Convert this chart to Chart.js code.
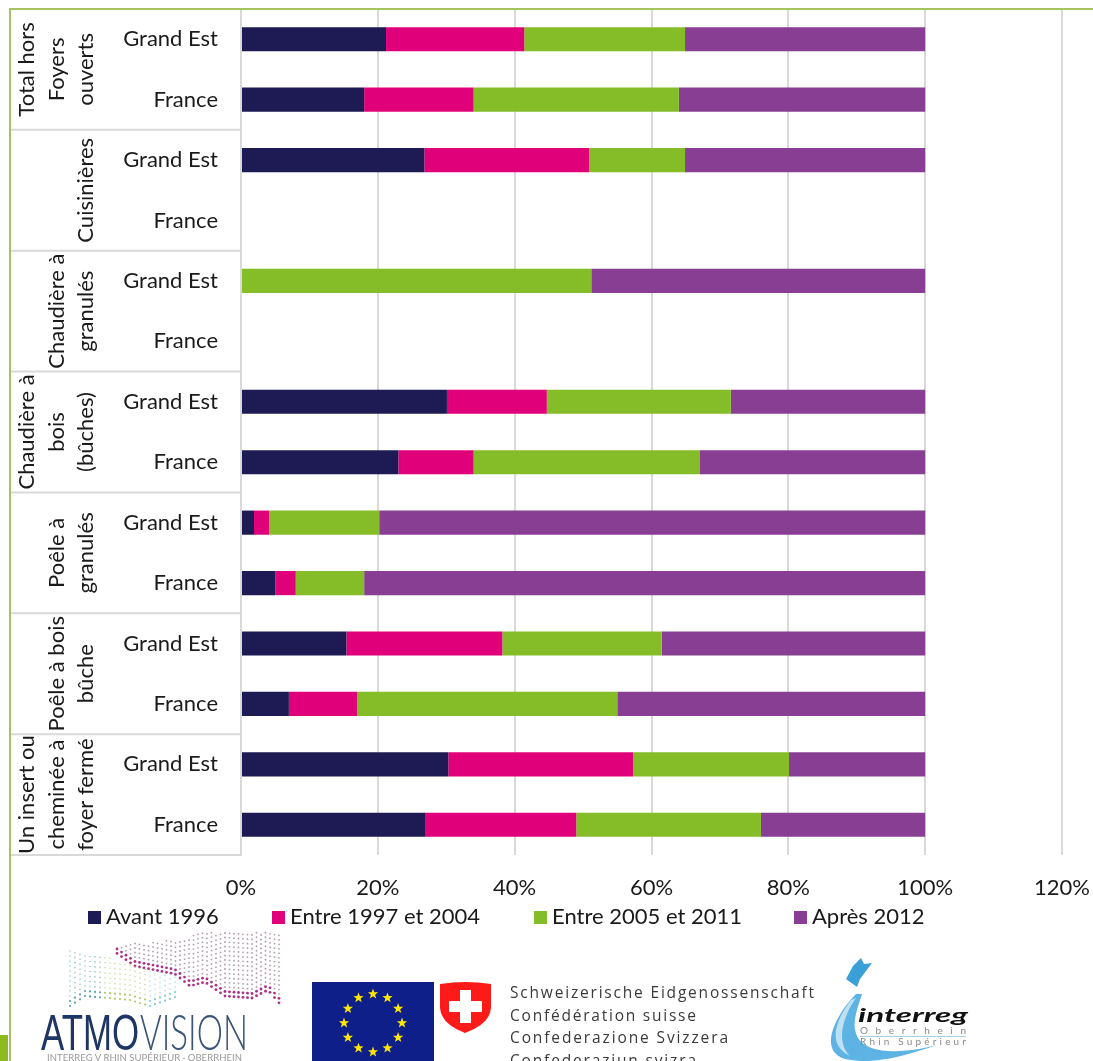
<!DOCTYPE html>
<html>
<head>
<meta charset="utf-8">
<script src="https://cdn.jsdelivr.net/npm/chart.js@4"></script>
<style>
  html, body { margin: 0; padding: 0; background: #fff; overflow: hidden; }
  #wrap { position: relative; width: 1093px; height: 1061px; overflow: hidden; }
  #chart { position: absolute; left: 0; top: 0; }
  #deco { position: absolute; left: 0; top: 0; }
</style>
</head>
<body>
<div id="wrap">
  <canvas id="chart" width="1093" height="1061"></canvas>
  <svg id="deco" width="1093" height="1061" xmlns="http://www.w3.org/2000/svg"></svg>
</div>
<script>
const regions = ['Grand Est','France','Grand Est','France','Grand Est','France','Grand Est','France','Grand Est','France','Grand Est','France','Grand Est','France'];
const groupLines = [
  ['Total hors','Foyers','ouverts'],
  ['Cuisinières'],
  ['Chaudière à','granulés'],
  ['Chaudière à','bois','(bûches)'],
  ['Poêle à','granulés'],
  ['Poêle à bois','bûche'],
  ['Un insert ou','cheminée à','foyer fermé']
];
const avant1996 = [21.2,18,26.8,null,0,null,30.1,23,1.9,5,15.4,7,30.3,27];
const entre1997 = [20.2,16,24.1,null,0,null,14.6,11,2.2,3,22.8,10,27,22];
const entre2005 = [23.5,30,14,null,51.2,null,26.9,33,16.1,10,23.3,38,22.8,27];
const apres2012 = [35.1,36,35.1,null,48.8,null,28.4,33,79.8,82,38.5,45,19.9,24];

const FONT = 'Lato';
const TXT = '#1a1a1a';
const GRID = '#d9d9d9';
const LEGEND_X = [88, 272, 534, 794];

// group cells left of the category labels, plus the legend row under the axis
const groupsPlugin = {
  id: 'groups',
  afterDraw(chart) {
    const ctx = chart.ctx, y = chart.scales.y, a = chart.chartArea;
    const rowH = (a.bottom - a.top) / regions.length;
    ctx.save();
    ctx.strokeStyle = GRID; ctx.lineWidth = 2;
    groupLines.forEach((lines, i) => {
      const bottom = a.top + rowH * (i + 1) * 2;
      ctx.beginPath(); ctx.moveTo(10, bottom); ctx.lineTo(a.left + 1, bottom); ctx.stroke();
      const cy = y.getPixelForValue(i * 2) + rowH / 2;
      ctx.fillStyle = TXT; ctx.font = '22px ' + FONT;
      ctx.textAlign = 'center'; ctx.textBaseline = 'middle';
      lines.forEach((line, j) => {
        const cx = 86 - (lines.length - 1 - j) * 29.5;
        ctx.save(); ctx.translate(cx, cy); ctx.rotate(-Math.PI / 2);
        ctx.fillText(line, 0, 0); ctx.restore();
      });
    });
    ctx.font = '22px ' + FONT; ctx.textAlign = 'left'; ctx.textBaseline = 'middle';
    chart.data.datasets.forEach((ds, i) => {
      ctx.fillStyle = ds.backgroundColor;
      ctx.fillRect(LEGEND_X[i], 911, 13, 13);
      ctx.fillStyle = TXT;
      ctx.fillText(ds.label, LEGEND_X[i] + 18, 917);
    });
    ctx.restore();
  }
};

new Chart(document.getElementById('chart').getContext('2d'), {
  type: 'bar',
  data: {
    labels: regions,
    datasets: [
      { label: 'Avant 1996', data: avant1996, backgroundColor: '#1e1b54' },
      { label: 'Entre 1997 et 2004', data: entre1997, backgroundColor: '#e0007a' },
      { label: 'Entre 2005 et 2011', data: entre2005, backgroundColor: '#84bd27' },
      { label: 'Après 2012', data: apres2012, backgroundColor: '#873e93' }
    ]
  },
  options: {
    indexAxis: 'y',
    responsive: false,
    animation: false,
    layout: { padding: { left: 10, right: 31, top: 9, bottom: 0 } },
    datasets: { bar: { categoryPercentage: 1, barPercentage: 0.4 } },
    plugins: {
      tooltip: { enabled: false },
      legend: { display: false }
    },
    scales: {
      x: {
        stacked: true, min: 0, max: 120,
        afterFit(s) { s.height = 206; s.paddingLeft = 0; s.paddingRight = 0; },
        grid: { color: GRID, lineWidth: 2, drawTicks: false },
        border: { display: false },
        ticks: { stepSize: 20, padding: 20, maxRotation: 0, color: TXT, font: { family: FONT, size: 22 }, callback: v => v + '%' }
      },
      y: {
        stacked: true,
        afterFit(s) { s.width = 231; s.paddingTop = 0; s.paddingBottom = 0; },
        grid: { display: false, drawTicks: false },
        border: { color: GRID, width: 2 },
        ticks: { autoSkip: false, padding: 23, color: TXT, font: { family: FONT, size: 22 } }
      }
    }
  },
  plugins: [groupsPlugin]
});

// frame and footer logos, these are not chart data
const NS = 'http://www.w3.org/2000/svg';
const deco = document.getElementById('deco');
function add(tag, attrs, text) {
  const el = document.createElementNS(NS, tag);
  for (const k in attrs) el.setAttribute(k, attrs[k]);
  if (text) el.textContent = text;
  deco.appendChild(el);
  return el;
}
add('rect', { x: 9, y: 8, width: 1084, height: 2, fill: '#a4c361' });
add('rect', { x: 9, y: 8, width: 2, height: 1053, fill: '#a4c361' });
add('rect', { x: 0, y: 1035, width: 8, height: 26, fill: '#8dbb1f' });

function curveAt(pts, x) {
  for (let i = 1; i < pts.length; i++) {
    if (x <= pts[i][0]) {
      const t = (x - pts[i-1][0]) / (pts[i][0] - pts[i-1][0]);
      return pts[i-1][1] + t * (pts[i][1] - pts[i-1][1]);
    }
  }
  return pts[pts.length - 1][1];
}
const pinkEdge = [[115,952],[135,966],[175,974],[190,986],[205,982],[225,996],[252,998],[268,990],[280,1004]];
const tealEdge = [[70,1006],[85,996],[130,1000],[150,1006],[178,996]];
for (let x = 117; x <= 280; x += 4.5) {
  const edge = curveAt(pinkEdge, x);
  const top = x < 190 ? 945 - (x - 117) * 0.1 : 932;
  for (let y = edge; y > top; y -= 4.5) {
    const near = y > edge - 9;
    add('circle', { cx: x, cy: y, r: near ? 1.4 : 0.9, fill: near ? '#a8237f' : '#8d6f8c', opacity: near ? 0.95 : 0.7 });
  }
}
for (let x = 70; x <= 178; x += 5) {
  const edge = curveAt(tealEdge, x);
  for (let y = edge; y > 950 + (x - 70) * 0.2; y -= 5) {
    const near = y > edge - 7;
    add('circle', { cx: x, cy: y, r: near ? 1.1 : 0.8, fill: x < 105 ? '#4f9ea0' : (x < 150 ? '#a9c65a' : '#7cc7d0'), opacity: near ? 0.95 : 0.6 });
  }
}
add('text', { x: 41, y: 1050, 'font-family': 'Liberation Sans', 'font-size': 50, fill: '#1f3564', textLength: 98, lengthAdjust: 'spacingAndGlyphs' }, 'ATMO');
add('text', { x: 140, y: 1050, 'font-family': 'Lato', 'font-weight': 300, 'font-size': 50, fill: '#3b5478', textLength: 108, lengthAdjust: 'spacingAndGlyphs' }, 'VISION');
add('text', { x: 47, y: 1061, 'font-family': 'Lato', 'font-size': 9.5, fill: '#9a9a9a', textLength: 195 }, 'INTERREG V RHIN SUPÉRIEUR · OBERRHEIN');

add('rect', { x: 312, y: 982, width: 122, height: 79, fill: '#0f1f8a' });
for (let i = 0; i < 12; i++) {
  const a = i * Math.PI / 6, cx = 373 + 29 * Math.sin(a), cy = 1023 - 29 * Math.cos(a);
  let d = '';
  for (let k = 0; k < 10; k++) {
    const r = k % 2 ? 2.2 : 5.4, b = k * Math.PI / 5;
    d += (k ? 'L' : 'M') + (cx + r * Math.sin(b)).toFixed(1) + ' ' + (cy - r * Math.cos(b)).toFixed(1);
  }
  add('path', { d: d + 'Z', fill: '#ffe600' });
}
add('path', { d: 'M440 984Q465 980 491 984V1008Q490 1024 465 1033Q441 1024 440 1008Z', fill: '#ff1a1a' });
add('path', { d: 'M460 990H471V1001H482V1012H471V1023H460V1012H449V1001H460Z', fill: '#fff' });

[['Schweizerische Eidgenossenschaft', 998, 304], ['Confédération suisse', 1021, 186], ['Confederazione Svizzera', 1043, 218], ['Confederaziun svizra', 1066, 186]].forEach(r => {
  add('text', { x: 510, y: r[1], 'font-family': 'Open Sans', 'font-size': 15.5, fill: '#3a3a3a', textLength: r[2] }, r[0]);
});

add('path', { d: 'M856 994C838 1012 816 1050 845 1059C880 1067 918 1050 948 1042C912 1053 870 1057 858 1038C850 1024 858 1008 862 994Z', fill: '#5db4e4' });
add('path', { d: 'M851 1000C836 1020 826 1044 850 1056C836 1042 842 1018 856 998Z', fill: '#bfe0f2' });
add('path', { d: 'M846 979L853 966L861 958L864 964L872 963L860 979L857 987Z', fill: '#3b9fd8' });
add('text', { x: 858, y: 1022, 'font-family': 'Lato', 'font-style': 'italic', 'font-weight': 'bold', 'font-size': 18, fill: '#111', textLength: 110, lengthAdjust: 'spacingAndGlyphs' }, 'interreg');
add('text', { x: 860, y: 1034, 'font-family': 'Lato', 'font-size': 10, fill: '#8a8a8a', textLength: 106 }, 'Oberrhein');
add('rect', { x: 860, y: 1036, width: 106, height: 1, fill: '#a9cfe4' });
add('text', { x: 860, y: 1045, 'font-family': 'Lato', 'font-size': 10, fill: '#8a8a8a', textLength: 106 }, 'Rhin Supérieur');
</script>
</body>
</html>
